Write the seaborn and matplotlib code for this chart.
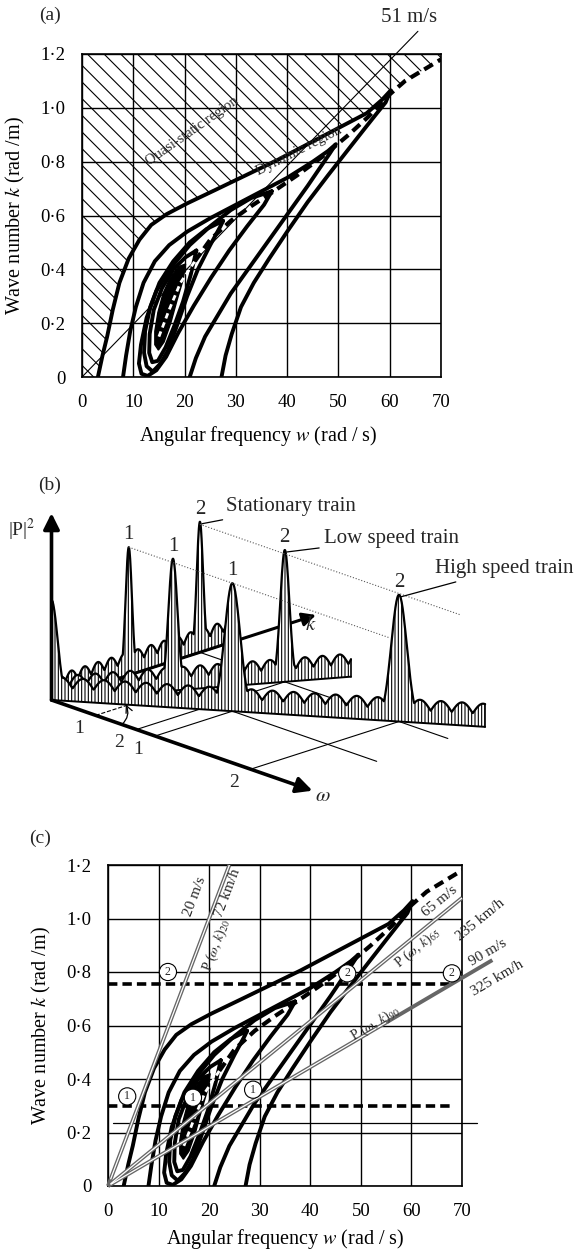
import numpy as np
import pandas as pd
import matplotlib
matplotlib.use("Agg")
import matplotlib.pyplot as plt
import seaborn as sns

sns.set_theme(style="white")
plt.rcParams["font.family"] = ["Liberation Serif", "DejaVu Serif"]
plt.rcParams["mathtext.fontset"] = "stix"
plt.rcParams["hatch.linewidth"] = 0.8
plt.rcParams["axes.edgecolor"] = "black"

# ---------------- data ----------------
w_ticks = [0, 10, 20, 30, 40, 50, 60, 70]
k_ticks = [0, 0.2, 0.4, 0.6, 0.8, 1.0, 1.2]
k_tick_labels = ["0", "0·2", "0·4", "0·6", "0·8", "1·0", "1·2"]

# contours of |P(w,k)|^2, w in rad/s, k in rad/m
A_up_w = [3.1, 4.0, 4.9, 6.0, 7.3, 9.1, 11.2, 13.5, 16.5, 20.5, 26, 32, 38, 44.5, 50.5, 55.5, 58.5, 60.2]
A_up_k = [0.0, 0.08, 0.15, 0.25, 0.35, 0.44, 0.51, 0.565, 0.605, 0.645, 0.695, 0.75, 0.805, 0.87, 0.93, 0.98, 1.03, 1.065]
A_lo_w = [59.2, 57.5, 55, 51.7, 48, 44, 40, 36.5, 33.5, 31, 29.2, 28, 27.2]
A_lo_k = [1.02, 0.98, 0.92, 0.84, 0.75, 0.65, 0.54, 0.44, 0.35, 0.26, 0.16, 0.08, 0.0]
B_w = [8.0, 8.6, 9.4, 10.5, 12.0, 14.2, 17, 20.5, 25, 30, 35, 40, 45, 48, 49.5,
       48.3, 46.5, 44, 41, 38, 35, 32, 29, 26.5, 24, 22.2, 21]
B_k = [0, 0.08, 0.17, 0.26, 0.35, 0.43, 0.49, 0.54, 0.59, 0.64, 0.69, 0.74, 0.8, 0.84, 0.865,
       0.83, 0.78, 0.71, 0.63, 0.55, 0.47, 0.39, 0.31, 0.23, 0.15, 0.07, 0]
C_w = [37, 33, 29, 25, 21, 17.5, 14.5, 12.6, 11.5, 11.1, 11.6, 12.8, 14.5, 16.4, 18.8, 21.8, 25.2, 28.7, 32.2, 35.5, 37]
C_k = [0.69, 0.665, 0.62, 0.56, 0.49, 0.41, 0.32, 0.22, 0.12, 0.05, 0.012, 0.004, 0.025, 0.075, 0.165, 0.265, 0.37, 0.47, 0.56, 0.64, 0.69]
D_w = [27.5, 24.3, 21, 17.8, 15.1, 13.3, 12.3, 12.1, 12.6, 13.8, 15.3, 16.8, 18.5, 20.5, 22.6, 25, 27, 27.5]
D_k = [0.58, 0.55, 0.5, 0.43, 0.35, 0.26, 0.17, 0.09, 0.04, 0.02, 0.05, 0.1, 0.19, 0.3, 0.4, 0.49, 0.56, 0.58]
E_w = [22.3, 20.2, 17.8, 15.6, 14.0, 13.2, 13.1, 13.7, 14.8, 16.3, 18.0, 19.7, 21.2, 22.3]
E_k = [0.47, 0.445, 0.4, 0.33, 0.25, 0.16, 0.09, 0.055, 0.06, 0.11, 0.19, 0.28, 0.38, 0.47]
F_w = [20.2, 18.8, 17.2, 15.8, 14.8, 14.2, 14.2, 14.9, 16.0, 17.3, 18.6, 19.7, 20.2]
F_k = [0.42, 0.41, 0.37, 0.31, 0.24, 0.17, 0.12, 0.10, 0.13, 0.20, 0.29, 0.36, 0.42]
ridge_w = [15.0, 17.0, 19.2, 22, 25, 29, 33, 37, 42, 47, 52, 56, 60, 63, 66.5, 70]
ridge_k = [0.15, 0.25, 0.35, 0.43, 0.51, 0.58, 0.635, 0.685, 0.75, 0.82, 0.9, 0.97, 1.05, 1.1, 1.14, 1.18]
conv_speed = 51  # m/s

# panel (c)
speeds = [20, 65, 90]
speeds_kmh = [72, 235, 325]
speed_w_end = [24, 70, 76]
k_sel = [0.3, 0.755]
k_thin = 0.237
circ_w = [3.8, 16.8, 28.7, 11.85, 47.3, 68.0]
circ_k = [0.335, 0.33, 0.36, 0.8, 0.795, 0.795]
circ_lab = ["1", "1", "1", "2", "2", "2"]

# panel (b) schematic spectra
train_names = ["Stationary train", "Low speed train", "High speed train"]
train_ratio = [0.0, 0.58, 1.36]
wall_end_k = [0.66, 0.72, 0.70]
peak_k = [0.292, 0.561]
peak_h = [[1.0, 1.02], [1.03, 1.03], [1.0, 0.99]]
peak_sigma = [0.012, 0.011, 0.0125]
ripple_period = [0.05, 0.042, 0.034]
spike_h = 0.78

contours = pd.concat([
    pd.DataFrame({"w": A_up_w + A_lo_w, "k": A_up_k + A_lo_k, "line": "A"}),
    pd.DataFrame({"w": B_w, "k": B_k, "line": "B"}),
    pd.DataFrame({"w": C_w, "k": C_k, "line": "C"}),
    pd.DataFrame({"w": D_w, "k": D_k, "line": "D"}),
    pd.DataFrame({"w": E_w, "k": E_k, "line": "E"}),
], ignore_index=True)

fig = plt.figure(figsize=(5.81, 12.55), dpi=100)

# pixel canvas for panel (b) and panel letters
axb = fig.add_axes([0, 0, 1, 1])
axb.set_xlim(0, 581)
axb.set_ylim(1255, 0)
axb.axis("off")


def field_axes(ax):
    ax.set_xlim(0, 70)
    ax.set_ylim(0, 1.2)
    ax.set_xticks(w_ticks)
    ax.set_yticks(k_ticks)
    ax.set_yticklabels(k_tick_labels)
    ax.tick_params(axis="both", length=0, labelsize=13.5, colors="black")
    ax.tick_params(axis="x", pad=12)
    ax.tick_params(axis="y", pad=12)
    ax.grid(True, color="black", lw=1.0)
    ax.set_axisbelow(True)
    for s in ax.spines.values():
        s.set_color("black")
        s.set_linewidth(1.2)
    sns.lineplot(data=contours, x="w", y="k", units="line", estimator=None, sort=False,
                 color="black", lw=2.8, ax=ax, solid_joinstyle="round", solid_capstyle="round")
    ax.fill(F_w, F_k, color="black", zorder=3)
    ax.plot(ridge_w[3:], ridge_k[3:], color="black", lw=3, dashes=(2.4, 1.4), zorder=3)
    ax.plot(ridge_w[:4], ridge_k[:4], color="white", lw=2, dashes=(2, 1.5), zorder=4)
    ax.set_xlabel("Angular frequency $w$ (rad / s)", fontsize=14.5, color="black")
    ax.set_ylabel("Wave number $k$ (rad /m)", fontsize=14.5, color="black")


# ---------------- panel (a) ----------------
ax_a = fig.add_axes([82 / 581, 1 - 377 / 1255, 359 / 581, 323 / 1255])
field_axes(ax_a)
hatch_w = [0] + A_up_w + ridge_w[-3:] + [70, 0]
hatch_k = [0] + A_up_k + ridge_k[-3:] + [1.2, 1.2]
ax_a.fill(hatch_w, hatch_k, facecolor="none", edgecolor="black", hatch="\\\\", lw=0, zorder=1)
lw_conv = np.array([0, 65.5])
ax_a.plot(lw_conv, lw_conv / conv_speed, color="black", lw=0.8, clip_on=False, zorder=2)
ax_a.text(63.8, 1.335, "51 m/s", fontsize=15, ha="center", va="center")
ax_a.text(21.5, 0.915, "Quasi-static region", fontsize=10.5, rotation=35, ha="center", va="center")
ax_a.text(42.3, 0.84, "Dynamic region", fontsize=10.5, rotation=27, ha="center", va="center")
ax_a.xaxis.set_label_coords(0.49, -0.145)
ax_a.yaxis.set_label_coords(-0.152, 0.5)

# ---------------- panel (c) ----------------
ax_c = fig.add_axes([108 / 581, 1 - 1186 / 1255, 354 / 581, 321 / 1255])
field_axes(ax_c)
ax_c.xaxis.set_label_coords(0.5, -0.128)
ax_c.yaxis.set_label_coords(-0.155, 0.5)
for kk in k_sel:
    ax_c.plot([0, 68], [kk, kk], color="black", lw=2.6, dashes=(2.6, 1.4), zorder=3)
ax_c.plot([1, 73], [k_thin, k_thin], color="black", lw=0.9, clip_on=False, zorder=3)
for v, we in zip(speeds, speed_w_end):
    ww = np.array([0, we])
    ax_c.plot(ww, ww / v, color="0.4", lw=2.8, clip_on=False, zorder=5, solid_capstyle="butt")
    wi = np.array([0.5, min(we, 55) if v == 90 else we])
    ax_c.plot(wi, wi / v, color="white", lw=0.9, clip_on=(v == 20), zorder=6, solid_capstyle="butt")
for w0, k0, lab in zip(circ_w, circ_k, circ_lab):
    ax_c.text(w0, k0, lab, fontsize=8.5, ha="center", va="center", zorder=7,
              bbox=dict(boxstyle="circle,pad=0.22", fc="white", ec="black", lw=0.8))
sp_labels = [
    ("20 m/s", 17.2, 1.084, 20, 11), ("72 km/h", 23.6, 1.096, 20, 11),
    ("P ($\\omega$, $k$)$_{20}$", 21.4, 0.90, 20, 10),
    ("65 m/s", 65.6, 1.063, 65, 11), ("235 km/h", 73.7, 0.994, 65, 11),
    ("P ($\\omega$, $k$)$_{65}$", 61.2, 0.888, 65, 10),
    ("90 m/s", 75.1, 0.872, 90, 11), ("325 km/h", 77.0, 0.776, 90, 11),
    ("P ($\\omega$, $k$)$_{90}$", 52.8, 0.607, 90, 10),
]
for txt, w0, k0, v, fs in sp_labels:
    ax_c.text(w0, k0, txt, fontsize=fs, ha="center", va="center", rotation=np.degrees(np.arctan2(1.0 / v, 1.0)),
              transform_rotates_text=True, rotation_mode="anchor", zorder=7)

# ---------------- panel (b) ----------------
O = np.array([51.5, 700.0])
EW = np.array([261.0, 90.7])
EK = np.array([264.5, -85.0])
HU = 128.0


def proj(a, b, h=0.0):
    a = np.asarray(a, float)
    b = np.asarray(b, float)
    return O[0] + a * EW[0] + b * EK[0], O[1] + a * EW[1] + b * EK[1] - np.asarray(h) * HU


# floor lines
for i, r in enumerate(train_ratio[1:]):
    for j, kp in enumerate(peak_k):
        x0, y0 = proj(r * kp, 0)
        x1, y1 = proj(r * kp, kp)
        axb.plot([x0, x1], [y0, y1], color="black", lw=0.8, zorder=1,
                 linestyle="--" if (i == 0 and j == 0) else "-")
        axb.text(x0 - 17, y0 + 13, str(j + 1), fontsize=14, ha="center", va="center")
for kp in peak_k:
    x0, y0 = proj(0, kp)
    x1, y1 = proj(0.95, kp)
    axb.plot([x0, x1], [y0, y1], color="black", lw=0.8, zorder=1)

zs = [2, 4, 5]
for i in range(3):
    b = np.linspace(0, wall_end_k[i], 900)
    h = 0.10 + 0.08 * np.abs(np.sin(np.pi * b / ripple_period[i]))
    pk = spike_h * np.exp(-(b / 0.014) ** 2)
    for kp, hp in zip(peak_k, peak_h[i]):
        pk = np.maximum(pk, hp * np.exp(-0.5 * ((b - kp) / peak_sigma[i]) ** 2))
    h = np.maximum(h, pk)
    a = train_ratio[i] * b
    xb_, yb_ = proj(a, b)
    xt_, yt_ = proj(a, b, h)
    axb.fill(np.r_[xt_, xb_[::-1]], np.r_[yt_, yb_[::-1]], facecolor="white", edgecolor="black",
             hatch="|||||", lw=0, zorder=zs[i])
    axb.plot(xt_, yt_, color="black", lw=1.6, zorder=zs[i] + 0.1)
    axb.plot(xb_, yb_, color="black", lw=1.4, zorder=zs[i] + 0.1)
    axb.plot([xb_[-1], xt_[-1]], [yb_[-1], yt_[-1]], color="black", lw=1.2, zorder=zs[i] + 0.1)
    for j, (kp, hp) in enumerate(zip(peak_k, peak_h[i])):
        xp, yp = proj(train_ratio[i] * kp, kp, hp)
        axb.text(xp, yp - 3, str(j + 1), fontsize=15, ha="center", va="bottom", zorder=8)
    xp, yp = proj(train_ratio[i] * peak_k[1], peak_k[1], peak_h[i][1])
    offs = [(24, 17), (37, 13), (34, 28)][i]
    axb.annotate(train_names[i], xy=(xp + 2, yp + 2), xytext=offs, textcoords="offset pixels",
                 fontsize=15, ha="left", va="center", zorder=8,
                 arrowprops=dict(arrowstyle="-", lw=0.9, color="black", shrinkA=1, shrinkB=0))
    if i == 0:
        xk, yk = proj(0, 1.0)
        axb.annotate("", xy=(xk, yk), xytext=(O[0], O[1]), zorder=3,
                     arrowprops=dict(arrowstyle="-|>", lw=2.2, color="black", mutation_scale=20,
                                     shrinkA=0, shrinkB=0))
        axb.text(xk - 5, yk + 10, "$k$", fontsize=15, ha="center", va="center")

# dotted constant-k lines through the peak tops
for kp in peak_k:
    x0, y0 = proj(0, kp, 1.0)
    x1, y1 = proj(1.0, kp, 1.0)
    axb.plot([x0, x1], [y0, y1], color="0.35", lw=0.8, linestyle=":", zorder=6)

# axes arrows
xw, yw = proj(1.0, 0)
axb.annotate("", xy=(xw, yw), xytext=(O[0], O[1]), zorder=7,
             arrowprops=dict(arrowstyle="-|>", lw=2.6, color="black", mutation_scale=24, shrinkA=0, shrinkB=0))
xv, yv = proj(0, 0, 1.46)
axb.annotate("", xy=(xv, yv), xytext=(O[0], O[1]), zorder=7,
             arrowprops=dict(arrowstyle="-|>", lw=2.6, color="black", mutation_scale=24, shrinkA=0, shrinkB=0))
axb.text(xw + 10, yw + 6, "$\\omega$", fontsize=15, ha="center", va="center")
axb.text(22, 530, "|P|$^2$", fontsize=14, ha="center", va="center")
xs_, ys_ = proj(0.27, 0)
xe_, ye_ = proj(train_ratio[2] * 0.12, 0.12)
axb.annotate("", xy=(xe_, ye_), xytext=(xs_, ys_), zorder=7,
             arrowprops=dict(arrowstyle="->", lw=0.9, color="black", connectionstyle="arc3,rad=0.35",
                             shrinkA=0, shrinkB=0))

axb.text(50, 485, "(b)", fontsize=14, ha="center", va="center")
axb.text(50, 15, "(a)", fontsize=14, ha="center", va="center")
axb.text(40, 838, "(c)", fontsize=14, ha="center", va="center")

fig.savefig("out.png", dpi=100)
